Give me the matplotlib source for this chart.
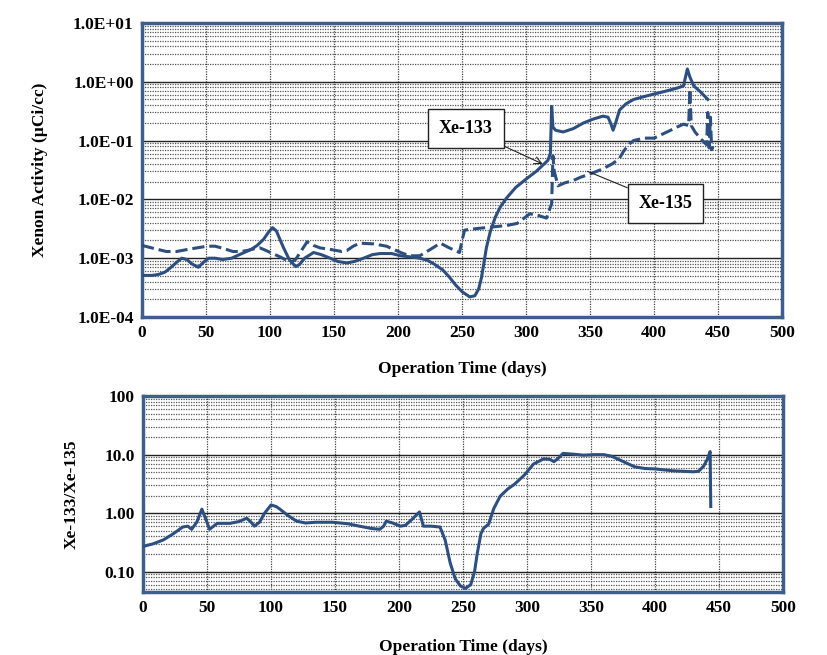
import matplotlib
matplotlib.use("Agg")
import matplotlib.pyplot as plt
from matplotlib.ticker import FixedLocator, LogLocator, NullFormatter, FixedFormatter
import numpy as np

# ---- data ----
xe133_days = [0, 8, 13, 18, 22, 27, 31, 35, 39, 44, 48, 52, 57, 63, 70, 78, 85, 90, 95, 99, 102, 105, 110,
              115, 120, 123, 127, 134, 140, 147, 153, 160, 166, 173, 180, 186,
              195, 202, 210, 217, 223, 228, 235, 240, 245, 250, 256, 260, 263, 265, 267, 269, 272, 276, 280,
              285, 292, 301, 308, 313, 317, 319, 320, 321, 323, 329,
              337, 345, 352, 360, 364, 366, 368, 370, 373, 378, 384, 395, 410, 418, 423, 426, 428, 431, 436, 442]
xe133_vals = [5.1e-4, 5.1e-4, 5.3e-4, 5.8e-4, 6.8e-4, 8.5e-4, 1.0e-3, 9.5e-4, 8.0e-4, 7.0e-4, 8.5e-4, 1.0e-3,
              1.0e-3, 9.5e-4, 1.0e-3, 1.2e-3, 1.4e-3, 1.65e-3, 2.1e-3, 2.8e-3, 3.3e-3, 2.9e-3, 1.6e-3,
              9.5e-4, 7.2e-4, 7.8e-4, 1.0e-3, 1.25e-3, 1.15e-3, 1.0e-3, 8.8e-4, 8.3e-4, 8.8e-4, 1.0e-3, 1.15e-3, 1.2e-3,
              1.2e-3, 1.1e-3, 1.05e-3, 1.0e-3, 9.2e-4, 8.0e-4, 6.3e-4, 4.8e-4, 3.5e-4, 2.7e-4, 2.2e-4, 2.3e-4,
              3.0e-4, 4.5e-4, 8.0e-4, 1.5e-3, 2.8e-3, 5.0e-3, 7.5e-3,
              1.07e-2, 1.6e-2, 2.3e-2, 3.0e-2, 3.8e-2, 4.6e-2, 6.0e-2, 0.38, 0.17, 0.15, 0.14,
              0.16, 0.20, 0.23, 0.26, 0.25, 0.20, 0.15, 0.20, 0.33, 0.42, 0.50, 0.58, 0.70, 0.78, 0.85, 1.65, 1.2,
              0.85, 0.68, 0.50]

xe135_days = [0, 10, 19, 27, 35, 43, 51, 57, 62, 71, 77, 82, 88, 92, 97, 102, 108, 116, 120, 123, 129, 134,
              139, 148, 156, 160, 165, 170, 181, 191, 197, 204, 210, 217, 225, 233,
              240, 248, 250, 252, 262, 274, 285, 293, 303, 310, 316, 320, 321, 322, 325, 330, 337, 343, 350,
              360, 368, 373, 376, 380, 384, 392, 400, 407, 413, 418, 423,
              427, 428, 429, 432, 436, 441, 442, 443, 444, 445, 446]
xe135_vals = [1.65e-3, 1.45e-3, 1.3e-3, 1.3e-3, 1.4e-3, 1.5e-3, 1.6e-3, 1.6e-3, 1.5e-3, 1.3e-3, 1.3e-3, 1.35e-3,
              1.45e-3, 1.5e-3, 1.35e-3, 1.2e-3, 1.05e-3, 8.5e-4, 9.5e-4, 1.2e-3, 1.9e-3, 1.65e-3,
              1.5e-3, 1.4e-3, 1.3e-3, 1.35e-3, 1.6e-3, 1.8e-3, 1.75e-3, 1.6e-3, 1.4e-3, 1.2e-3, 1.1e-3, 1.1e-3,
              1.4e-3, 1.8e-3,
              1.5e-3, 1.25e-3, 2.0e-3, 3.0e-3, 3.2e-3, 3.4e-3, 3.6e-3, 3.9e-3, 5.7e-3, 5.3e-3, 4.8e-3, 8.5e-3,
              5.5e-2, 3.0e-2, 1.7e-2, 1.9e-2, 2.1e-2, 2.4e-2, 2.7e-2,
              3.3e-2, 4.1e-2, 5.0e-2, 6.5e-2, 8.5e-2, 0.10, 0.11, 0.11, 0.13, 0.15, 0.17, 0.19,
              0.18, 0.75, 0.18, 0.14, 0.11, 0.085, 0.30, 0.075, 0.25, 0.07, 0.08]

ratio_days = [0, 8, 16, 24, 31, 35, 38, 42, 46, 49, 52, 58, 68, 75, 81, 84, 87, 91, 95, 100, 104, 107, 113, 120,
              127, 135, 148, 160, 169, 178, 185, 188, 190, 195, 201, 205, 210,
              216, 219, 225, 232, 236, 240, 244, 248, 252, 256, 259, 261, 264, 266, 270, 274, 279, 285, 290,
              298, 305, 313, 318, 321, 324, 328, 336, 344, 352, 360, 366, 372, 384, 392, 400, 414, 422, 430,
              434, 438, 441, 443, 443.5]
ratio_vals = [0.27, 0.30, 0.35, 0.45, 0.58, 0.60, 0.53, 0.70, 1.17, 0.80, 0.53, 0.67, 0.67, 0.72, 0.82, 0.72,
              0.60, 0.70, 1.0, 1.38, 1.30, 1.17, 0.92, 0.73,
              0.68, 0.70, 0.70, 0.66, 0.60, 0.55, 0.53, 0.60, 0.73, 0.68, 0.60, 0.62, 0.78,
              1.05, 0.60, 0.60, 0.58, 0.35, 0.14, 0.075, 0.057, 0.052, 0.060, 0.10, 0.20, 0.45, 0.55, 0.65, 1.2,
              1.95, 2.6, 3.1, 4.5, 6.9, 8.5, 8.3, 7.6, 8.5, 10.5, 10.2, 9.8, 10.0, 10.0, 9.4, 8.2, 6.2, 5.8,
              5.7, 5.3, 5.2, 5.1, 5.2, 6.4, 8.5, 11.3, 1.3]

xticks = [0, 50, 100, 150, 200, 250, 300, 350, 400, 450, 500]
top_yticks = [1e-4, 1e-3, 1e-2, 1e-1, 1e0, 1e1]
top_ylabels = ["1.0E-04", "1.0E-03", "1.0E-02", "1.0E-01", "1.0E+00", "1.0E+01"]
bot_yticks = [0.1, 1.0, 10.0, 100.0]
bot_ylabels = ["0.10", "1.00", "10.0", "100"]

# ---- style ----
plt.rcParams['font.family'] = ['Liberation Serif', 'DejaVu Serif']
plt.rcParams['font.weight'] = 'bold'
line_c = '#2D4F80'
frame_c = '#3F5E8C'
FS = 12.5

fig = plt.figure(figsize=(8.27, 6.55), dpi=100)
ax1 = fig.add_axes([0.1717, 0.516, 0.774, 0.449])
ax2 = fig.add_axes([0.1729, 0.0962, 0.774, 0.299])


def style_axes(ax, yt, yl, ylim):
    ax.set_yscale('log')
    ax.set_xlim(0, 500)
    ax.set_ylim(*ylim)
    ax.xaxis.set_major_locator(FixedLocator(xticks))
    ax.set_xticklabels([str(t) for t in xticks])
    ax.yaxis.set_major_locator(FixedLocator(yt))
    ax.yaxis.set_major_formatter(FixedFormatter(yl))
    ax.yaxis.set_minor_locator(LogLocator(base=10, subs=np.arange(2, 10), numticks=20))
    ax.yaxis.set_minor_formatter(NullFormatter())
    ax.tick_params(which='both', length=0, labelsize=FS, pad=6)
    for lab in ax.get_xticklabels() + ax.get_yticklabels():
        lab.set_fontweight('bold')
    ax.grid(True, which='major', axis='y', color='#222222', lw=1.0, ls='-')
    ax.grid(True, which='minor', axis='y', color='#555555', lw=0.9, ls=(0, (1, 1)))
    ax.grid(True, which='major', axis='x', color='#444444', lw=0.9, ls=(0, (1, 1)))
    ax.set_axisbelow(True)
    for s in ax.spines.values():
        s.set_color(frame_c)
        s.set_linewidth(2.5)


style_axes(ax1, top_yticks, top_ylabels, (1e-4, 10))
style_axes(ax2, bot_yticks, bot_ylabels, (0.045, 100))

ax1.plot(xe133_days, xe133_vals, color=line_c, lw=2.2, solid_joinstyle='round', zorder=3)
ax1.plot(xe135_days, xe135_vals, color=line_c, lw=2.2, ls=(0, (4, 1.6)), zorder=3)
ax2.plot(ratio_days, ratio_vals, color=line_c, lw=2.2, solid_joinstyle='round', zorder=3)

ax1.set_xlabel('Operation Time (days)', fontsize=FS, fontweight='bold', labelpad=14)
ax1.set_ylabel('Xenon Activity (\u00b5Ci/cc)', fontsize=FS, fontweight='bold', labelpad=18)
ax2.set_xlabel('Operation Time (days)', fontsize=FS, fontweight='bold', labelpad=16)
ax2.set_ylabel('Xe-133/Xe-135', fontsize=FS, fontweight='bold', labelpad=18)

box = dict(boxstyle='square,pad=0.6', fc='white', ec='#222222', lw=1.0)
ax1.annotate('Xe-133', xy=(313, 0.04), xytext=(253, 0.16), fontsize=13, fontweight='bold',
             ha='center', va='center', bbox=box,
             arrowprops=dict(arrowstyle='->', color='#222222', lw=0.8, shrinkA=0, shrinkB=0))
ax1.annotate('Xe-135', xy=(348, 0.03), xytext=(409, 0.0085), fontsize=13, fontweight='bold',
             ha='center', va='center', bbox=box,
             arrowprops=dict(arrowstyle='-', color='#222222', lw=0.8, shrinkA=0, shrinkB=0))

fig.savefig('out.png', dpi=100)
